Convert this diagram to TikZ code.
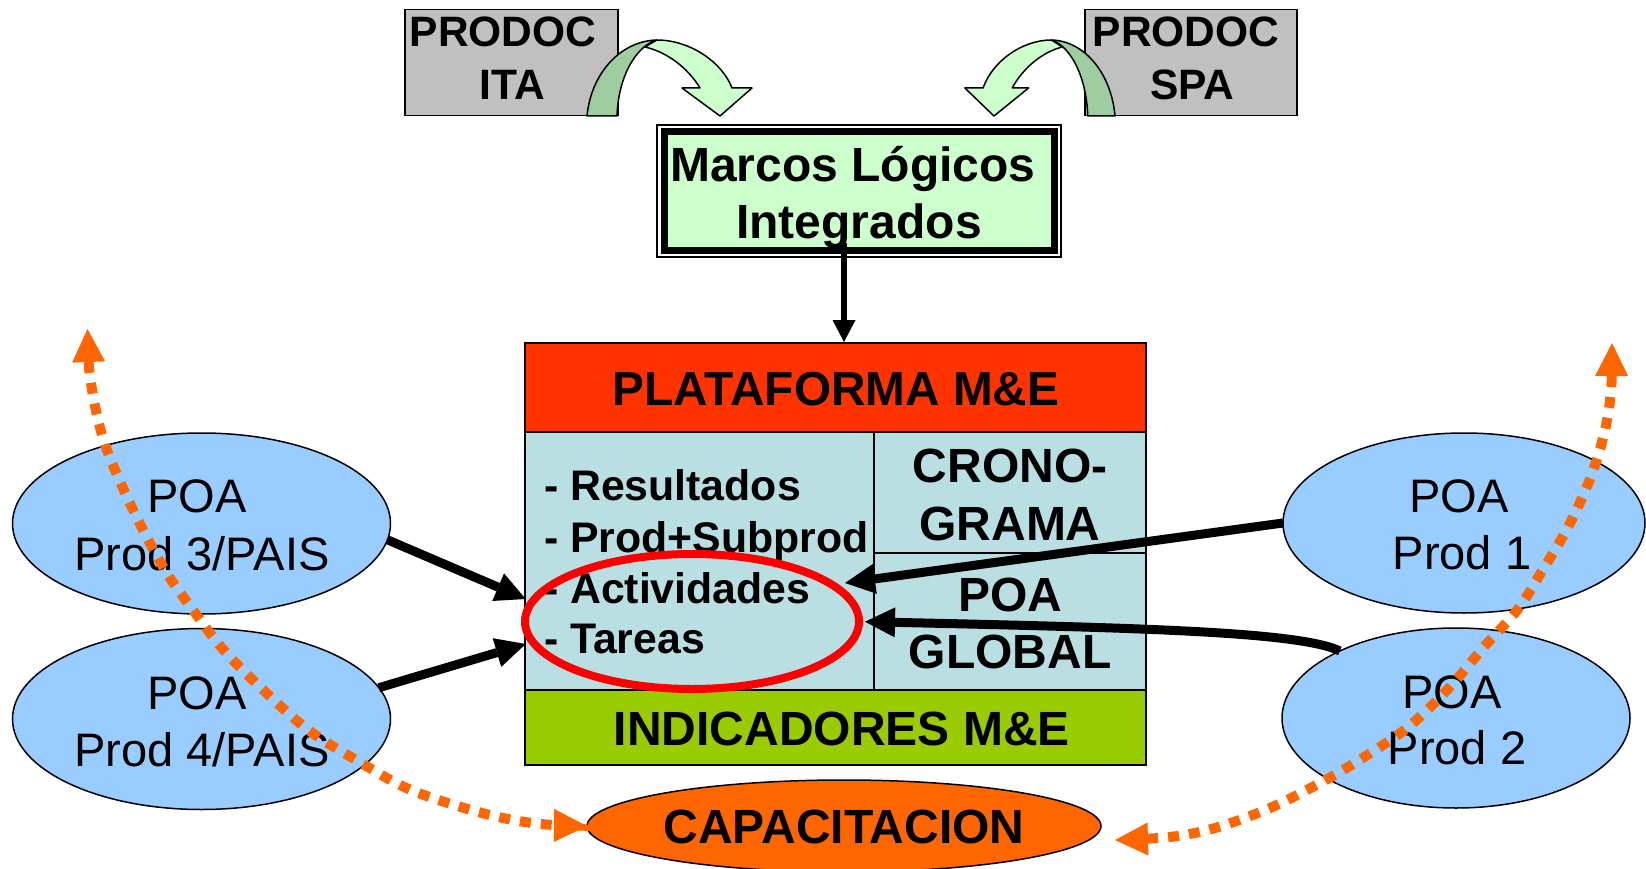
\documentclass[tikz,border=0pt]{standalone}
\usepackage{fontspec}
\setmainfont{Liberation Sans}
\usetikzlibrary{arrows.meta,shapes.geometric}
\definecolor{boxgray}{RGB}{192,192,192}
\definecolor{lgreen}{RGB}{204,255,204}
\definecolor{dgreen}{RGB}{160,205,160}
\definecolor{hdrred}{RGB}{255,51,0}
\definecolor{lblue}{RGB}{185,223,227}
\definecolor{igreen}{RGB}{153,204,0}
\definecolor{poablue}{RGB}{153,204,255}
\definecolor{orng}{RGB}{255,102,0}
\begin{document}
\begin{tikzpicture}[x=1pt,y=-1pt,
  every node/.style={inner sep=0pt,outer sep=0pt},
  lbl/.style={anchor=base,font=\fontsize{#1}{#1}\selectfont},
  blbl/.style={anchor=base,font=\bfseries\fontsize{#1}{#1}\selectfont},
  lst/.style={anchor=base west,font=\bfseries\fontsize{42.8}{42.8}\selectfont},
  poa/.style={ellipse,draw,line width=1.5pt,fill=poablue},
  blk/.style={line width=9pt,-{Triangle[length=30pt,width=30pt,line width=0pt]}},
  dots/.style={orng,line width=10pt,dash pattern=on 11pt off 10pt,
    {Triangle[length=33pt,width=33pt,line width=0pt]}-{Triangle[length=33pt,width=33pt,line width=0pt]}},
  cell/.style={draw,line width=2pt,rectangle,anchor=north west},
  curv/.style={draw,line width=1.5pt,line join=round}
]
\fill[white] (0,0) rectangle (1646,869);
\useasboundingbox (0,0) rectangle (1646,869);

% PRODOC boxes
\node[draw,line width=1.5pt,fill=boxgray,minimum width=213pt,minimum height=106pt] (ita) at (511.5,62.5) {};
\node[blbl=42.5] (itat1) at (503,47) {PRODOC};
\node[blbl=42.5] (itat2) at (512.5,100) {ITA};
\node[draw,line width=1.5pt,fill=boxgray,minimum width=212pt,minimum height=106pt] (spa) at (1191,62.5) {};
\node[blbl=42.5] (spat1) at (1186,47) {PRODOC};
\node[blbl=42.5] (spat2) at (1192.5,100) {SPA};

% curved arrows
\begin{scope}[shift={(587,0)}]
  \path[curv,fill=lgreen] (69.7,40) .. controls (103,40) and (135,62) .. (145,88) -- (165,88) -- (133,116) -- (95,88) -- (113,88) .. controls (101,68) and (80,52) .. (58,47) -- cycle;
  \path[curv,fill=dgreen] (0,116) .. controls (4,74) and (33,41) .. (69.7,40) .. controls (47,47) and (31,80) .. (30,116) -- cycle;
\end{scope}
\begin{scope}[shift={(1115,0)},xscale=-0.91]
  \path[curv,fill=lgreen] (69.7,40) .. controls (103,40) and (135,62) .. (145,88) -- (165,88) -- (133,116) -- (95,88) -- (113,88) .. controls (101,68) and (80,52) .. (58,47) -- cycle;
  \path[curv,fill=dgreen] (0,116) .. controls (4,74) and (33,41) .. (69.7,40) .. controls (47,47) and (31,80) .. (30,116) -- cycle;
\end{scope}

% Marcos Logicos box
\node[draw,line width=1.5pt,fill=white,minimum width=404pt,minimum height=132pt] (mlo) at (859,191) {};
\node[draw,line width=7pt,fill=lgreen,minimum width=390pt,minimum height=118pt] (mli) at (859,191) {};
\node[blbl=48] (mt1) at (853,182) {Marcos Lógicos};
\node[blbl=48] (mt2) at (859,238) {Integrados};

% plataforma
\node[cell,fill=lblue,minimum width=349pt,minimum height=258pt] (lista) at (525,432) {};
\node[cell,fill=lblue,minimum width=272pt,minimum height=121pt] (crono) at (874,432) {};
\node[cell,fill=lblue,minimum width=272pt,minimum height=137pt] (poag) at (874,553) {};
\node[cell,fill=hdrred,minimum width=621pt,minimum height=89pt] (hdr) at (525,343) {};
\node[cell,fill=igreen,minimum width=621pt,minimum height=75pt] (ind) at (525,690) {};
\node[blbl=47.7] (tplat) at (836,405) {PLATAFORMA M\&E};
\node[blbl=48] (tind) at (842,745) {INDICADORES M\&E};
\node[lst] (l1) at (544,500) {- Resultados};
\node[lst] (l2) at (544,552) {- Prod+Subprod};
\node[lst] (l3) at (544,603) {- Actividades};
\node[lst] (l4) at (544,653) {- Tareas};
\node[blbl=48] (c1) at (1010,482) {CRONO-};
\node[blbl=48] (c2) at (1010,540) {GRAMA};
\node[blbl=48] (g1) at (1010,611) {POA};
\node[blbl=48] (g2) at (1010,668) {GLOBAL};
\node[ellipse,draw=red,line width=8pt,minimum width=334pt,minimum height=135pt] (circ) at (692,621.5) {};

% arrow from Marcos
\coordinate (ms) at (844,243);
\coordinate (me) at (844,342);
\draw[line width=6pt,-{Triangle[length=22pt,width=23pt,line width=0pt]}] (ms) -- (me);

% POA ellipses
\node[poa,minimum width=378pt,minimum height=181pt] (p3) at (201.5,523.5) {};
\node[lbl=47] (p3a) at (197,512) {POA};
\node[lbl=47] (p3b) at (202,570) {Prod 3/PAIS};
\node[poa,minimum width=378pt,minimum height=181pt] (p4) at (201.5,719) {};
\node[lbl=47] (p4a) at (197,709) {POA};
\node[lbl=47] (p4b) at (202,766) {Prod 4/PAIS};
\node[poa,minimum width=362pt,minimum height=180pt] (p1) at (1464,523) {};
\node[lbl=47] (p1a) at (1459,512) {POA};
\node[lbl=47] (p1b) at (1462,569) {Prod 1};
\node[poa,minimum width=348pt,minimum height=180pt] (p2) at (1456,718) {};
\node[lbl=47] (p2a) at (1452,708) {POA};
\node[lbl=47] (p2b) at (1457,764) {Prod 2};

% capacitacion
\node[ellipse,draw,line width=1.5pt,fill=orng,minimum width=514pt,minimum height=92pt] (cap) at (844,826) {};
\node[blbl=48] (capt) at (844,843) {CAPACITACION};

% black arrows
\coordinate (tA) at (525.7,599);
\coordinate (tB) at (525.7,644);
\coordinate (tC) at (845,583);
\coordinate (tD) at (865,621.7);
\draw[blk] (p3.-5) -- (tA);
\draw[blk] (p4.10) -- (tB);
\draw[blk] (p1.west) -- (tC);
\draw[blk] (p2.150) .. controls (1300,632) and (1150,628) .. (tD);

% orange dotted arrows
\coordinate (oL) at (87.5,329);
\coordinate (oR) at (1612,343);
\coordinate (oE) at (1115,840);
\draw[dots] plot[smooth,tension=0.55] coordinates {(oL) (91,383) (102,435) (118,477) (143,530) (168,575) (193,610) (221,647) (257,684) (307,729) (357,760.5) (411,790) (482,813) (536,823.5) (cap.west)};
\draw[dots] plot[smooth,tension=0.55] coordinates {(oR) (1610,400) (1602,442) (1588,484) (1567,529) (1542,571) (1518,609) (1483,648) (1448,689) (1407,728) (1361,759) (1320,783) (1270,808) (1215,828) (1170,837) (oE)};
\end{tikzpicture}
\end{document}
